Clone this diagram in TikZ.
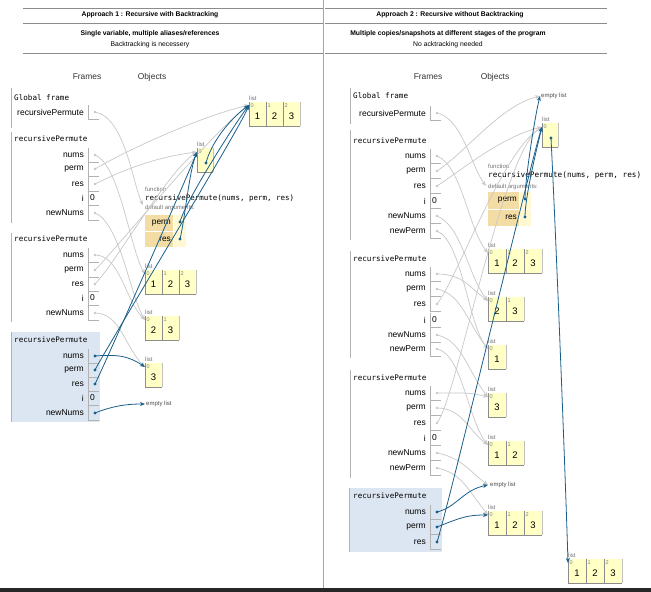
\documentclass[tikz,border=0pt]{standalone}
\usepackage{fontspec}
\setmainfont{Liberation Sans}
\newfontfamily\monof{DejaVu Sans Mono}
\usetikzlibrary{arrows.meta}
\definecolor{ptblue}{HTML}{1A5F8A}
\definecolor{ptgray}{HTML}{C8C8C8}
\definecolor{framebg}{HTML}{DCE6F2}
\definecolor{listbg}{HTML}{FFFFC6}
\definecolor{tanbg}{HTML}{F3DDA5}
\definecolor{valbg}{HTML}{FFF8D2}
\tikzset{
 hrule/.style={draw=black!45, line width=0.6pt},
 divrule/.style={draw=black!35, line width=0.6pt},
 frule/.style={draw=black!30, line width=0.8pt},
 cellrule/.style={draw=black!30, line width=0.6pt},
 listrule/.style={draw=black!45, line width=0.6pt},
 hdr/.style={font=\fontsize{6.8}{8}\selectfont\bfseries, inner sep=0},
 sub/.style={font=\fontsize{6.8}{8}\selectfont, inner sep=0},
 colhead/.style={font=\fontsize{8.4}{10}\selectfont, text=black!80, inner sep=0},
 ftitle/.style={font=\monof\fontsize{7.6}{9}\selectfont, anchor=west, inner sep=0},
 vname/.style={font=\fontsize{8.5}{10}\selectfont, anchor=east, inner sep=0},
 vval/.style={font=\fontsize{8.5}{10}\selectfont, anchor=west, inner sep=0},
 small/.style={font=\fontsize{6}{7}\selectfont, text=black!55, inner sep=0},
 idxs/.style={font=\fontsize{5.5}{6}\selectfont, text=black!50, inner sep=0, anchor=north west},
 lval/.style={font=\fontsize{9.5}{10}\selectfont, inner sep=0},
 sig/.style={font=\monof\fontsize{7.5}{9}\selectfont, anchor=west, inner sep=0},
 dargs/.style={font=\fontsize{8.3}{9}\selectfont, anchor=east, inner sep=0},
 gdot/.style={circle, fill=ptgray, inner sep=0, minimum size=2.6pt},
 bdot/.style={circle, fill=ptblue, inner sep=0, minimum size=3.2pt},
 garrow/.style={draw=ptgray, line width=0.7pt, -{Stealth[length=5pt,width=4pt]}},
 barrow/.style={draw=ptblue, line width=0.8pt, -{Stealth[length=5pt,width=4pt]}},
}
% frame variable with pointer dot: name, xr, y, label, dotstyle
\newcommand\fvar[5]{%
  \node[vname] (#1l) at (#2,#3) {#4};
  \draw[cellrule] (#2+4,#3-7) -- (#2+4,#3+7) -- (#2+15,#3+7);
  \node[#5] (#1) at (#2+11,#3) {};}
% frame variable with value
\newcommand\fval[5]{%
  \node[vname] (#1l) at (#2,#3) {#4};
  \draw[cellrule] (#2+4,#3-7) -- (#2+4,#3+7) -- (#2+15,#3+7);
  \node[vval] (#1) at (#2+6,#3) {#5};}
% list cell: name, x, ytop, width, idx, val
\newcommand\lcell[6]{%
  \fill[listbg] (#2,#3) rectangle (#2+#4,#3+24);
  \draw[listrule] (#2,#3) -- (#2,#3+24) -- (#2+#4,#3+24);
  \node[idxs] (#1i) at (#2+1.5,#3+1.5) {#5};
  \node[lval] (#1v) at (#2+#4/2,#3+14) {#6};}
\newcommand\lend[2]{\draw[draw=black!25, line width=0.5pt] (#1,#2) -- (#1,#2+24);}
\begin{document}
\begin{tikzpicture}[x=1pt,y=-1pt]
\useasboundingbox (0,0) rectangle (651,592);
\fill[white] (0,0) rectangle (651,592);
% ---------- headers ----------
\draw[hrule] (23,8)--(323,8) (23,23)--(323,23) (23,53)--(323,53);
\draw[hrule] (325,8)--(607,8) (325,23)--(607,23) (325,53)--(607,53);
\draw[divrule] (323,0)--(323,588);
\node[hdr] (h1) at (150,15) {Approach 1 : Recursive with Backtracking};
\node[hdr] (h1b) at (150,34) {Single variable, multiple aliases/references};
\node[sub] (h1c) at (150,45) {Backtracking is necessery};
\node[hdr] (h2) at (450,15) {Approach 2 : Recursive without Backtracking};
\node[hdr] (h2b) at (448,34) {Multiple copies/snapshots at different stages of the program};
\node[sub] (h2c) at (448,45) {No acktracking needed};
\node[colhead] (fr1) at (87,77) {Frames};
\node[colhead] (ob1) at (152,77) {Objects};
\node[colhead] (fr2) at (428,77) {Frames};
\node[colhead] (ob2) at (495,77) {Objects};
% ---------- left frames ----------
\fill[framebg] (11,332) rectangle (100,422);
\draw[frule] (11,88)--(11,128);
\draw[frule] (11,132)--(11,223);
\draw[frule] (11,233)--(11,322);
\draw[frule] (11,332)--(11,422);
\node[ftitle] (ag) at (14,98) {Global frame};
\fvar{a0rp}{84}{112}{recursivePermute}{gdot}
\node[ftitle] (a1t) at (14,139) {recursivePermute};
\fvar{a1nums}{84}{155}{nums}{gdot}
\fvar{a1perm}{84}{169}{perm}{gdot}
\fvar{a1res}{84}{184}{res}{gdot}
\fval{a1i}{84}{198}{i}{0}
\fvar{a1nn}{84}{213}{newNums}{gdot}
\node[ftitle] (a2t) at (14,239) {recursivePermute};
\fvar{a2nums}{84}{255}{nums}{gdot}
\fvar{a2perm}{84}{270}{perm}{gdot}
\fvar{a2res}{84}{284}{res}{gdot}
\fval{a2i}{84}{298}{i}{0}
\fvar{a2nn}{84}{313}{newNums}{gdot}
\node[ftitle] (a3t) at (14,340) {recursivePermute};
\fvar{a3nums}{84}{356}{nums}{bdot}
\fvar{a3perm}{84}{370}{perm}{bdot}
\fvar{a3res}{84}{384}{res}{bdot}
\fval{a3i}{84}{398}{i}{0}
\fvar{a3nn}{84}{413}{newNums}{bdot}
% ---------- left objects ----------
\node[small, anchor=south west] (lt) at (249,101) {list};
\lcell{at1}{249}{102}{17}{0}{1}\lcell{at2}{266}{102}{17}{1}{2}\lcell{at3}{283}{102}{17}{2}{3}\lend{300}{102}
\node[small, anchor=south west] (lr) at (197,147) {list};
\lcell{ar1}{197}{148}{16}{0}{}\lend{213}{148}
\node[bdot] (arin) at (206,163) {};
\node[small, anchor=west] (afn) at (145,189) {function};
\node[sig] (asig) at (145,198) {recursivePermute(nums, perm, res)};
\node[small, anchor=west] (ada) at (145,208) {default arguments:};
\fill[tanbg] (145,215) rectangle (173,247);
\fill[valbg] (173,215) rectangle (186,247);
\draw[white, line width=0.8pt] (145,231)--(186,231) (173,215)--(173,247);
\node[dargs] (adp) at (171,223) {perm};
\node[dargs] (adr) at (171,239) {res};
\node[bdot] (afp) at (180,222) {};
\node[bdot] (afr) at (180,239) {};
\node[small, anchor=south west] (lb1) at (145,269) {list};
\lcell{ab1}{145}{270}{17}{0}{1}\lcell{ab2}{162}{270}{17}{1}{2}\lcell{ab3}{179}{270}{17}{2}{3}\lend{196}{270}
\node[small, anchor=south west] (lb2) at (145,315) {list};
\lcell{ac1}{145}{316}{17}{0}{2}\lcell{ac2}{162}{316}{17}{1}{3}\lend{179}{316}
\node[small, anchor=south west] (lb3) at (145,362) {list};
\lcell{ad1}{145}{363}{17}{0}{3}\lend{162}{363}
\node[small, anchor=west, text=black!70] (aemp) at (146,404) {empty list};
\coordinate (T123) at (249,105);
\coordinate (Tres) at (197,152);
\coordinate (Afun) at (143,205);
\coordinate (L123) at (145,274);
\coordinate (L23) at (145,320);
\coordinate (L3) at (145,367);
\coordinate (Lemp) at (145,404);
% left gray arrows
\draw[garrow] (a0rp.center) .. controls +(30,5) and +(-10,-20) .. (Afun);
\draw[garrow] (a1nums.center) .. controls +(25,10) and +(-15,-25) .. (L123);
\draw[garrow] (a1perm.center) .. controls +(30,-18) and +(-50,12) .. (T123);
\draw[garrow] (a1res.center) .. controls +(30,-15) and +(-40,5) .. (Tres);
\draw[garrow] (a1nn.center) .. controls +(25,10) and +(-15,-25) .. (L23);
\draw[garrow] (a2nums.center) .. controls +(25,0) and +(-20,-20) .. (L23);
\draw[garrow] (a2perm.center) .. controls +(20,-20) and +(-40,30) .. (T123);
\draw[garrow] (a2res.center) .. controls +(20,-20) and +(-30,20) .. (Tres);
\draw[garrow] (a2nn.center) .. controls +(25,0) and +(-20,-20) .. (L3);
% left blue arrows
\draw[barrow] (a3nums.center) .. controls +(25,-2) and +(-15,-10) .. (L3);
\draw[barrow] (a3perm.center) .. controls +(10,-20) and +(-10,25) .. (T123);
\draw[barrow] (a3res.center) .. controls +(10,-20) and +(-10,25) .. (Tres);
\draw[barrow] (a3nn.center) .. controls +(20,-8) and +(-15,0) .. (Lemp);
\draw[barrow] (afp.center) .. controls +(5,-20) and +(-15,20) .. (T123);
\draw[barrow] (afr.center) .. controls +(5,-20) and +(-8,20) .. (Tres);
\draw[barrow] (arin.center) .. controls +(5,-20) and +(-20,15) .. (T123);
% ---------- right frames ----------
\fill[framebg] (349,488) rectangle (442,552);
\draw[frule] (350,88)--(350,124);
\draw[frule] (350,130)--(350,240);
\draw[frule] (350,251)--(350,358);
\draw[frule] (350,370)--(350,478);
\draw[frule] (349,488)--(349,552);
\node[ftitle] (bg) at (353,96) {Global frame};
\fvar{b0rp}{426}{113}{recursivePermute}{gdot}
\node[ftitle] (b1t) at (353,141) {recursivePermute};
\fvar{b1nums}{426}{156}{nums}{gdot}
\fvar{b1perm}{426}{171}{perm}{gdot}
\fvar{b1res}{426}{186}{res}{gdot}
\fval{b1i}{426}{201}{i}{0}
\fvar{b1nn}{426}{216}{newNums}{gdot}
\fvar{b1np}{426}{231}{newPerm}{gdot}
\node[ftitle] (b2t) at (353,259) {recursivePermute};
\fvar{b2nums}{426}{274}{nums}{gdot}
\fvar{b2perm}{426}{289}{perm}{gdot}
\fvar{b2res}{426}{304}{res}{gdot}
\fval{b2i}{426}{320}{i}{0}
\fvar{b2nn}{426}{335}{newNums}{gdot}
\fvar{b2np}{426}{349}{newPerm}{gdot}
\node[ftitle] (b3t) at (353,378) {recursivePermute};
\fvar{b3nums}{426}{393}{nums}{gdot}
\fvar{b3perm}{426}{408}{perm}{gdot}
\fvar{b3res}{426}{423}{res}{gdot}
\fval{b3i}{426}{438}{i}{0}
\fvar{b3nn}{426}{453}{newNums}{gdot}
\fvar{b3np}{426}{468}{newPerm}{gdot}
\node[ftitle] (b4t) at (353,496) {recursivePermute};
\fvar{b4nums}{426}{512}{nums}{bdot}
\fvar{b4perm}{426}{527}{perm}{bdot}
\fvar{b4res}{426}{542}{res}{bdot}
% ---------- right objects ----------
\node[small, anchor=west, text=black!70] (bemp1) at (541,96) {empty list};
\node[small, anchor=south west] (blr) at (542,122) {list};
\lcell{br1}{542}{123}{16}{0}{}\lend{558}{123}
\node[bdot] (brin) at (551,138) {};
\node[small, anchor=west] (bfn) at (488,166) {function};
\node[sig, font=\monof\fontsize{7.7}{9}\selectfont] (bsig) at (488,175) {recursivePermute(nums, perm, res)};
\node[small, anchor=west] (bda) at (488,187) {default arguments:};
\fill[tanbg] (488,192) rectangle (519,226);
\fill[valbg] (519,192) rectangle (531,226);
\draw[white, line width=0.8pt] (488,209)--(531,209) (519,192)--(519,226);
\node[dargs] (bdp) at (517,200) {perm};
\node[dargs] (bdr) at (517,217) {res};
\node[bdot] (bfp) at (525,199) {};
\node[bdot] (bfr) at (525,217) {};
\node[small, anchor=south west] (bl1) at (488,248) {list};
\lcell{bc1}{488}{249}{18}{0}{1}\lcell{bc2}{506}{249}{18}{1}{2}\lcell{bc3}{524}{249}{18}{2}{3}\lend{542}{249}
\node[small, anchor=south west] (bl2) at (488,296) {list};
\lcell{bd1}{488}{297}{18}{0}{2}\lcell{bd2}{506}{297}{18}{1}{3}\lend{524}{297}
\node[small, anchor=south west] (bl3) at (488,344) {list};
\lcell{be1}{488}{345}{18}{0}{1}\lend{506}{345}
\node[small, anchor=south west] (bl4) at (488,392) {list};
\lcell{bf1}{488}{393}{18}{0}{3}\lend{506}{393}
\node[small, anchor=south west] (bl5) at (488,440) {list};
\lcell{bg1}{488}{441}{18}{0}{1}\lcell{bg2}{506}{441}{18}{1}{2}\lend{524}{441}
\node[small, anchor=west, text=black!70] (bemp2) at (490,485) {empty list};
\node[small, anchor=south west] (bl6) at (488,510) {list};
\lcell{bh1}{488}{511}{18}{0}{1}\lcell{bh2}{506}{511}{18}{1}{2}\lcell{bh3}{524}{511}{18}{2}{3}\lend{542}{511}
\node[small, anchor=south west] (bl7) at (568,558) {list};
\lcell{bk1}{568}{559}{18}{0}{1}\lcell{bk2}{586}{559}{18}{1}{2}\lcell{bk3}{604}{559}{18}{2}{3}\lend{622}{559}
\coordinate (Remp) at (540,96);
\coordinate (Rres) at (542,127);
\coordinate (Rfun) at (486,186);
\coordinate (R123) at (488,253);
\coordinate (R23) at (488,301);
\coordinate (R1) at (488,349);
\coordinate (R3) at (488,397);
\coordinate (R12) at (488,445);
\coordinate (Remp2) at (488,485);
\coordinate (R123b) at (488,515);
\coordinate (R123c) at (568,563);
% right gray arrows
\draw[garrow] (b0rp.center) .. controls +(25,5) and +(-15,-20) .. (Rfun);
\draw[garrow] (b1nums.center) .. controls +(25,10) and +(-20,-25) .. (R123);
\draw[garrow] (b1perm.center) .. controls +(30,-20) and +(-40,10) .. (Remp);
\draw[garrow] (b1res.center) .. controls +(30,-20) and +(-40,10) .. (Rres);
\draw[garrow] (b1nn.center) .. controls +(25,10) and +(-20,-25) .. (R23);
\draw[garrow] (b1np.center) .. controls +(25,10) and +(-20,-25) .. (R1);
\draw[garrow] (b2nums.center) .. controls +(25,0) and +(-20,-15) .. (R23);
\draw[garrow] (b2perm.center) .. controls +(25,5) and +(-20,-25) .. (R1);
\draw[garrow] (b2res.center) .. controls +(20,-25) and +(-40,25) .. (Rres);
\draw[garrow] (b2nn.center) .. controls +(25,5) and +(-20,-25) .. (R3);
\draw[garrow] (b2np.center) .. controls +(25,5) and +(-20,-25) .. (R12);
\draw[garrow] (b3nums.center) .. controls +(25,0) and +(-20,-5) .. (R3);
\draw[garrow] (b3perm.center) .. controls +(25,0) and +(-20,-15) .. (R12);
\draw[garrow] (b3res.center) .. controls +(20,-25) and +(-40,25) .. (Rres);
\draw[garrow] (b3nn.center) .. controls +(25,5) and +(-20,-15) .. (Remp2);
\draw[garrow] (b3np.center) .. controls +(25,5) and +(-20,-25) .. (R123b);
% right blue arrows
\draw[barrow] (b4nums.center) .. controls +(20,-5) and +(-25,5) .. (Remp2);
\draw[barrow] (b4perm.center) .. controls +(25,-10) and +(-20,0) .. (R123b);
\draw[barrow] (b4res.center) .. controls +(10,-30) and +(-10,30) .. (Rres);
\draw[barrow] (bfp.center) .. controls +(0,-20) and +(-5,20) .. (Remp);
\draw[barrow] (bfr.center) .. controls +(0,-20) and +(-5,20) .. (Rres);
\draw[barrow] (brin.center) .. controls +(5,100) and +(-3,-100) .. (R123c);
% bottom bar
\fill[black!85] (0,588) rectangle (651,592);
\end{tikzpicture}
\end{document}
